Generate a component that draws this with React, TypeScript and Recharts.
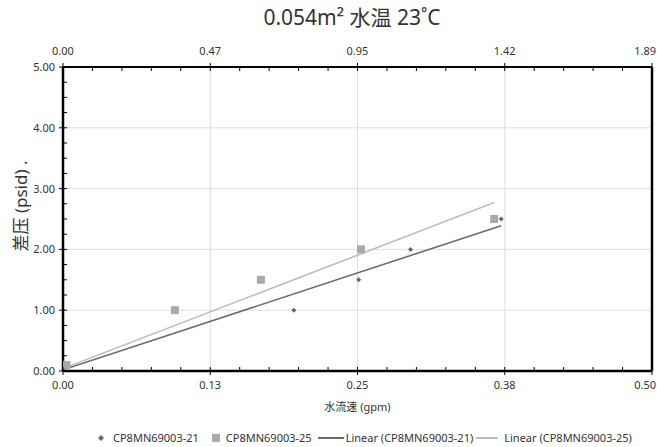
import React from "react";
import { ScatterChart, Scatter, XAxis, YAxis, ReferenceLine } from "recharts";

const title = "0.054m² 水温 23˚C";
const xAxisTitle = "水流速 (gpm)";
const yAxisTitle = "差压 (psid) .";
const seriesNames = ["CP8MN69003-21", "CP8MN69003-25", "Linear (CP8MN69003-21)", "Linear (CP8MN69003-25)"];

const flow21 = [0.196, 0.251, 0.295, 0.372];
const dp21 = [1.0, 1.5, 2.0, 2.5];
const flow25 = [0.003, 0.095, 0.168, 0.253, 0.366];
const dp25 = [0.1, 1.0, 1.5, 2.0, 2.5];
const trendFlow21 = [0, 0.372];
const trendDp21 = [0.02, 2.39];
const trendFlow25 = [0, 0.366];
const trendDp25 = [0.04, 2.77];

const bottomTicks = [0, 0.125, 0.25, 0.375, 0.5];
const bottomTickLabels = ["0.00", "0.13", "0.25", "0.38", "0.50"];
const topTicks = [0, 0.4725, 0.945, 1.4175, 1.89];
const topTickLabels = ["0.00", "0.47", "0.95", "1.42", "1.89"];
const leftTicks = [0, 1, 2, 3, 4, 5];
const leftTickLabels = ["0.00", "1.00", "2.00", "3.00", "4.00", "5.00"];

const zip = (xs: number[], ys: number[]) => xs.map((x, i) => ({ x, y: ys[i] }));
const data21 = zip(flow21, dp21);
const data25 = zip(flow25, dp25);
const trend21 = zip(trendFlow21, trendDp21);
const trend25 = zip(trendFlow25, trendDp25);

const withMinor = (majors: number[], sub: number) => {
  const out: number[] = [];
  for (let i = 0; i < majors.length - 1; i++) {
    const step = (majors[i + 1] - majors[i]) / sub;
    for (let k = 0; k < sub; k++) out.push(majors[i] + k * step);
  }
  out.push(majors[majors.length - 1]);
  return out;
};

const bottomAll = withMinor(bottomTicks, 5);
const topAll = withMinor(topTicks, 5);
const leftAll = withMinor(leftTicks, 4);

const FONT = "'Noto Sans', 'Noto Sans CJK JP', sans-serif";
const TXT = "#333";
const RIGHT_LIMIT = 656;

const isMajor = (v: number, majors: number[]) => majors.findIndex((m) => Math.abs(m - v) < 1e-6);

const labelX = (x: number, last: boolean) => (last ? RIGHT_LIMIT : x);

const BottomTick = (props: any) => {
  const { x, y, payload } = props;
  const idx = isMajor(payload.value, bottomTicks);
  const last = idx === bottomTicks.length - 1;
  return (
    <g>
      {idx >= 0 ? (
        <>
          <line x1={x} x2={x} y1={y - 4} y2={y + 4} stroke="#000" strokeWidth={1} />
          <text x={labelX(x, last)} y={y + 18} textAnchor={last ? "end" : "middle"} fontSize={11} fill={TXT} fontFamily={FONT}>
            {bottomTickLabels[idx]}
          </text>
        </>
      ) : (
        <line x1={x} x2={x} y1={y - 4} y2={y} stroke="#000" strokeWidth={1} />
      )}
    </g>
  );
};

const TopTick = (props: any) => {
  const { x, y, payload } = props;
  const idx = isMajor(payload.value, topTicks);
  const last = idx === topTicks.length - 1;
  return (
    <g>
      {idx >= 0 ? (
        <>
          <line x1={x} x2={x} y1={y - 4} y2={y + 4} stroke="#000" strokeWidth={1} />
          <text x={labelX(x, last)} y={y - 12} textAnchor={last ? "end" : "middle"} fontSize={11} fill={TXT} fontFamily={FONT}>
            {topTickLabels[idx]}
          </text>
        </>
      ) : (
        <line x1={x} x2={x} y1={y} y2={y + 4} stroke="#000" strokeWidth={1} />
      )}
    </g>
  );
};

const LeftTick = (props: any) => {
  const { x, y, payload } = props;
  const idx = isMajor(payload.value, leftTicks);
  return (
    <g>
      {idx >= 0 ? (
        <>
          <line x1={x - 4} x2={x + 4} y1={y} y2={y} stroke="#000" strokeWidth={1} />
          <text x={x - 8} y={y + 4} textAnchor="end" fontSize={11} fill={TXT} fontFamily={FONT}>
            {leftTickLabels[idx]}
          </text>
        </>
      ) : (
        <line x1={x} x2={x + 4} y1={y} y2={y} stroke="#000" strokeWidth={1} />
      )}
    </g>
  );
};

const Diamond = (props: any) => {
  const { cx, cy } = props;
  if (cx == null) return <g />;
  return <path d={`M${cx},${cy - 2.5}L${cx + 2.5},${cy}L${cx},${cy + 2.5}L${cx - 2.5},${cy}Z`} fill="#666672" />;
};
const Square = (props: any) => {
  const { cx, cy } = props;
  if (cx == null) return <g />;
  return <rect x={cx - 4} y={cy - 4} width={8} height={8} fill="#a9a9a9" />;
};
const NoShape = () => <g />;

export default function App() {
  return (
    <div style={{ position: "absolute", left: 0, top: 0, width: 657, height: 447, background: "#fff", fontFamily: FONT }}>
      <ScatterChart width={657} height={447} margin={{ top: 0, right: 5, bottom: 0, left: 0 }}>
        <XAxis
          xAxisId="bottom"
          dataKey="x"
          type="number"
          orientation="bottom"
          domain={[0, 0.5]}
          ticks={bottomAll}
          interval={0}
          height={76}
          tickSize={0}
          tickMargin={0}
          tick={<BottomTick />}
          axisLine={{ stroke: "#000", strokeWidth: 2.5 }}
          allowDataOverflow
        />
        <XAxis
          xAxisId="top"
          dataKey="x"
          type="number"
          orientation="top"
          domain={[0, 1.89]}
          ticks={topAll}
          interval={0}
          height={67}
          tickSize={0}
          tickMargin={0}
          tick={<TopTick />}
          axisLine={{ stroke: "#000", strokeWidth: 2 }}
          allowDataOverflow
        />
        <YAxis
          dataKey="y"
          type="number"
          domain={[0, 5]}
          ticks={leftAll}
          interval={0}
          width={63}
          tickSize={0}
          tickMargin={0}
          tick={<LeftTick />}
          axisLine={{ stroke: "#000", strokeWidth: 2.5 }}
          allowDataOverflow
        />
        {[1, 2, 3, 4].map((v) => (
          <ReferenceLine key={"h" + v} xAxisId="bottom" y={v} stroke="#dedede" strokeWidth={1} />
        ))}
        {[0.125, 0.25, 0.375].map((v) => (
          <ReferenceLine key={"v" + v} xAxisId="bottom" x={v} stroke="#dedede" strokeWidth={1} />
        ))}
        <ReferenceLine xAxisId="bottom" x={0.5} stroke="#000" strokeWidth={2.5} />
        <Scatter xAxisId="top" data={data25} shape={<NoShape />} legendType="none" isAnimationActive={false} />
        <Scatter xAxisId="bottom" name={seriesNames[2]} data={trend21} line={{ stroke: "#6b6b6b", strokeWidth: 1.6 }} shape={<NoShape />} isAnimationActive={false} />
        <Scatter xAxisId="bottom" name={seriesNames[3]} data={trend25} line={{ stroke: "#bdbdbd", strokeWidth: 1.6 }} shape={<NoShape />} isAnimationActive={false} />
        <Scatter xAxisId="bottom" name={seriesNames[1]} data={data25} shape={<Square />} isAnimationActive={false} />
        <Scatter xAxisId="bottom" name={seriesNames[0]} data={data21} shape={<Diamond />} isAnimationActive={false} />
      </ScatterChart>
      <div style={{ position: "absolute", left: 0, width: 704, top: 4, textAlign: "center", fontSize: 21, color: TXT, lineHeight: "26px" }}>
        {title}
      </div>
      <div style={{ position: "absolute", left: 0, width: 715, top: 399, textAlign: "center", fontSize: 11, color: TXT, lineHeight: "16px" }}>
        {xAxisTitle}
      </div>
      <div
        style={{
          position: "absolute",
          left: 21,
          top: 206,
          transform: "translate(-50%, -50%) rotate(-90deg)",
          whiteSpace: "nowrap",
          fontSize: 17,
          color: TXT,
          lineHeight: "20px",
        }}
      >
        {yAxisTitle}
      </div>
      <div style={{ position: "absolute", left: 97, top: 430, display: "flex", alignItems: "center", fontSize: 11, color: TXT, lineHeight: "16px", whiteSpace: "nowrap" }}>
        <svg width={8} height={8} style={{ marginRight: 8 }}>
          <path d="M4,1L7,4L4,7L1,4Z" fill="#666672" />
        </svg>
        <span style={{ marginRight: 13 }}>{seriesNames[0]}</span>
        <svg width={8} height={8} style={{ marginRight: 6 }}>
          <rect x={0} y={0} width={8} height={8} fill="#a9a9a9" />
        </svg>
        <span style={{ marginRight: 6 }}>{seriesNames[1]}</span>
        <svg width={26} height={4} style={{ marginRight: 2 }}>
          <line x1={0} x2={26} y1={2} y2={2} stroke="#6b6b6b" strokeWidth={2} />
        </svg>
        <span style={{ marginRight: 3 }}>{seriesNames[2]}</span>
        <svg width={22} height={4} style={{ marginRight: 6 }}>
          <line x1={0} x2={22} y1={2} y2={2} stroke="#bdbdbd" strokeWidth={2} />
        </svg>
        <span>{seriesNames[3]}</span>
      </div>
    </div>
  );
}
